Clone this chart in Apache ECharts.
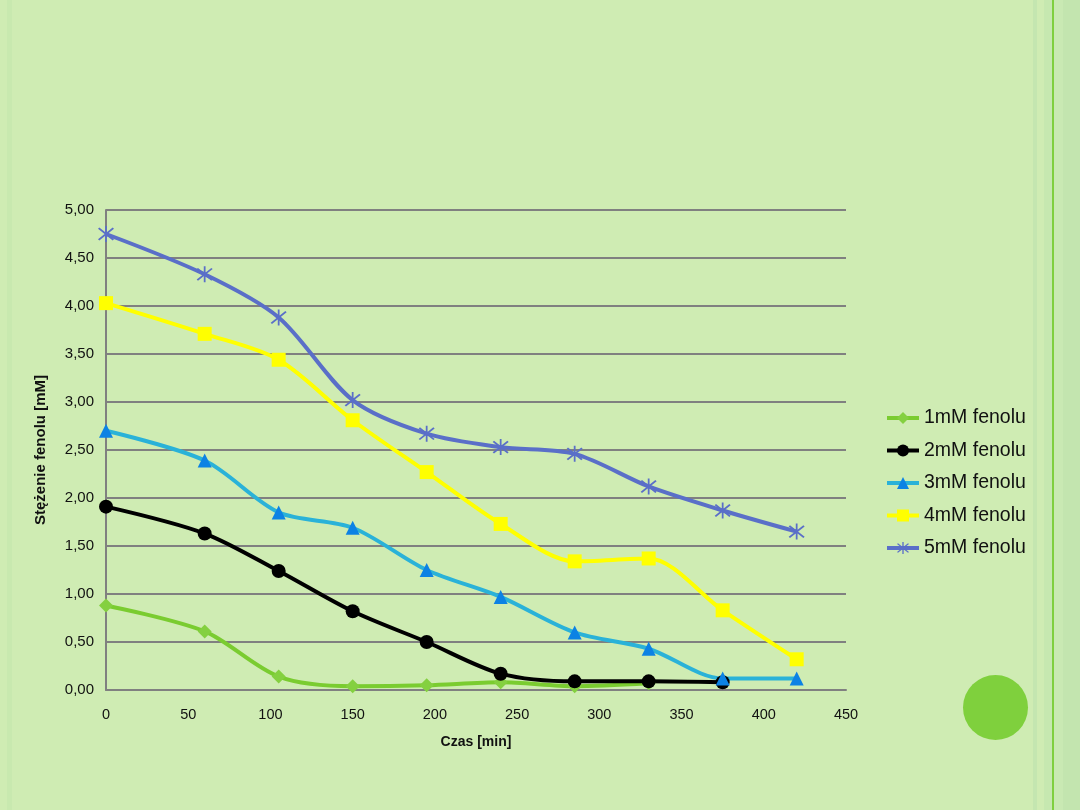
<!DOCTYPE html>
<html><head><meta charset="utf-8">
<script src="https://cdn.jsdelivr.net/npm/echarts@6/dist/echarts.min.js"></script>
<style>html,body{margin:0;padding:0;background:#cfecb3;}#c{width:1080px;height:810px;}</style>
</head><body><div id="c"></div>
<script>
const times = [0, 60, 105, 150, 195, 240, 285, 330, 375, 420];
const s1mM = [0.88, 0.61, 0.14, 0.04, 0.05, 0.08, 0.04, 0.07];
const s2mM = [1.91, 1.63, 1.24, 0.82, 0.50, 0.17, 0.09, 0.09, 0.08];
const s3mM = [2.70, 2.39, 1.85, 1.69, 1.25, 0.97, 0.60, 0.43, 0.12, 0.12];
const s4mM = [4.03, 3.71, 3.44, 2.81, 2.27, 1.73, 1.34, 1.37, 0.83, 0.32];
const s5mM = [4.75, 4.33, 3.88, 3.02, 2.67, 2.53, 2.46, 2.12, 1.87, 1.65];
const seriesNames = ['1mM fenolu', '2mM fenolu', '3mM fenolu', '4mM fenolu', '5mM fenolu'];
const xTicks = [0, 50, 100, 150, 200, 250, 300, 350, 400, 450];
const yTicks = [0, 0.5, 1, 1.5, 2, 2.5, 3, 3.5, 4, 4.5, 5];

const pair = arr => arr.map((v, i) => [times[i], v]);
const star = 'path://M9,0 L11,0 L11,20 L9,20 Z M1,3.5 L2.5,2 L19,16.5 L17.5,18 Z M17.5,2 L19,3.5 L2.5,18 L1,16.5 Z';

const chart = echarts.init(document.getElementById('c'), null, {renderer: 'canvas'});
const lbl = {fontFamily: 'Liberation Sans, Arial, sans-serif', color: '#111'};
function mk(name, data, lineColor, symbol, symSize, symColor) {
  return {
    name, type: 'line', data: pair(data), smooth: 0.3,
    symbol, symbolSize: symSize, showSymbol: true,
    lineStyle: {color: lineColor, width: 4},
    itemStyle: {color: symColor, borderWidth: 0, opacity: 1},
    emphasis: {disabled: true}, z: 3
  };
}
chart.setOption({
  backgroundColor: '#cfecb3',
  animation: false,
  graphic: [
    {type: 'rect', shape: {x: 7, y: 0, width: 5, height: 810}, style: {fill: '#c8e9af'}, z: -10},
    {type: 'rect', shape: {x: 1033, y: 0, width: 4, height: 810}, style: {fill: '#c4e6b0'}, z: -10},
    {type: 'rect', shape: {x: 1044, y: 0, width: 8, height: 810}, style: {fill: '#c6e8b0'}, z: -10},
    {type: 'rect', shape: {x: 1052, y: 0, width: 2, height: 810}, style: {fill: '#7fcf3f'}, z: -10},
    {type: 'rect', shape: {x: 1054, y: 0, width: 9, height: 810}, style: {fill: '#c9e9b3'}, z: -10},
    {type: 'rect', shape: {x: 1063, y: 0, width: 17, height: 810}, style: {fill: '#c3e5af'}, z: -10},
    {type: 'circle', shape: {cx: 995.5, cy: 707.5, r: 32.5}, style: {fill: '#7fd03d'}, z: -10}
  ],
  grid: {left: 106, right: 234, top: 210, bottom: 120},
  xAxis: {
    type: 'value', min: 0, max: 450, interval: 50,
    name: 'Czas [min]', nameLocation: 'middle', nameGap: 45,
    nameTextStyle: Object.assign({fontSize: 14, fontWeight: 'bold'}, lbl),
    axisLine: {show: true, lineStyle: {color: '#808080', width: 2}},
    axisTick: {show: false},
    axisLabel: Object.assign({fontSize: 14.5, margin: 17}, lbl),
    splitLine: {show: false}
  },
  yAxis: {
    type: 'value', min: 0, max: 5, interval: 0.5,
    name: 'Stężenie fenolu [mM]', nameLocation: 'middle', nameGap: 58,
    nameTextStyle: Object.assign({fontSize: 15, fontWeight: 'bold'}, lbl),
    axisLine: {show: true, lineStyle: {color: '#808080', width: 2}},
    axisTick: {show: false},
    axisLabel: Object.assign({fontSize: 15, margin: 12, formatter: v => v.toFixed(2).replace('.', ',')}, lbl),
    splitLine: {show: true, lineStyle: {color: '#808080', width: 2}}
  },
  legend: {
    orient: 'vertical', left: 880, top: 403, itemGap: 12.5,
    itemWidth: 32, itemHeight: 15,
    lineStyle: {width: 4},
    textStyle: Object.assign({fontSize: 19.5}, lbl),
    data: seriesNames
  },
  series: [
    mk(seriesNames[0], s1mM, '#7acc30', 'diamond', 14, '#84d040'),
    mk(seriesNames[1], s2mM, '#000000', 'circle', 14, '#000000'),
    mk(seriesNames[2], s3mM, '#2ab2d8', 'triangle', 14, '#0c82e4'),
    mk(seriesNames[3], s4mM, '#ffff00', 'rect', 14, '#ffff00'),
    mk(seriesNames[4], s5mM, '#5a6fc8', star, 16, '#5a6fc8')
  ]
});
</script></body></html>
